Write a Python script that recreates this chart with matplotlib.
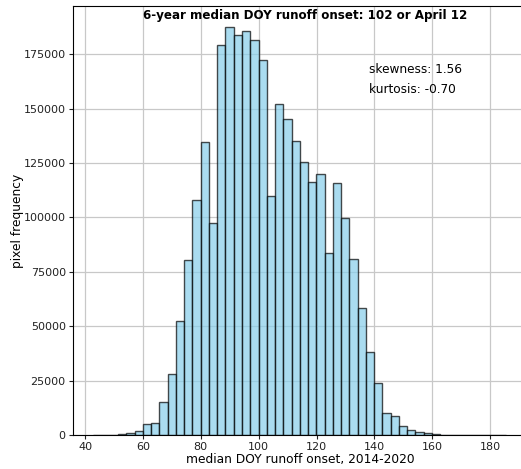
import matplotlib
matplotlib.use("Agg")
import matplotlib.pyplot as plt
import numpy as np

# histogram of 6-year median DOY runoff onset (50 bins)
bin_lo, bin_hi, n_bins = 42.87, 185.57, 50
counts = [50, 50, 100, 300, 800, 1800, 4900, 5600, 15400, 28000,
          52300, 80500, 107900, 134900, 97400, 179500, 187800, 184000, 185700, 181700,
          172600, 109800, 152100, 145500, 135100, 125300, 116200, 120100, 83600, 115800,
          99800, 80800, 58600, 38300, 24000, 10000, 8900, 4000, 2300, 1200,
          800, 400, 200, 150, 100, 50, 50, 30, 20, 10]

title = "6-year median DOY runoff onset: 102 or April 12"
stats = ["skewness: 1.56", "kurtosis: -0.70"]

edges = np.linspace(bin_lo, bin_hi, n_bins + 1)

fig = plt.figure(figsize=(5.21, 4.69), dpi=100)
ax = fig.add_axes([0.1395, 0.0725, 0.872, 0.9145])

ax.hist(edges[:-1], bins=edges, weights=counts, color="skyblue",
        edgecolor="black", alpha=0.7, linewidth=1)

ax.set_axisbelow(True)
ax.grid(True, color="#c8c8c8", linewidth=0.9)
ax.set_xticks(np.arange(40, 181, 20))
ax.tick_params(labelsize=8.0, colors="#222222", length=3, pad=2)

ax.set_xlabel("median DOY runoff onset, 2014-2020", fontsize=8.8, labelpad=1)
ax.set_ylabel("pixel frequency", fontsize=8.8)
ax.yaxis.set_label_coords(-0.108, 0.5)

ax.text(0.511, 0.994, title, transform=ax.transAxes, ha="center", va="top",
        fontsize=8.6, fontweight="bold")
ax.text(0.652, 0.845, stats[0], transform=ax.transAxes, fontsize=8.7)
ax.text(0.652, 0.797, stats[1], transform=ax.transAxes, fontsize=8.7)

fig.savefig("out.png", dpi=100)
